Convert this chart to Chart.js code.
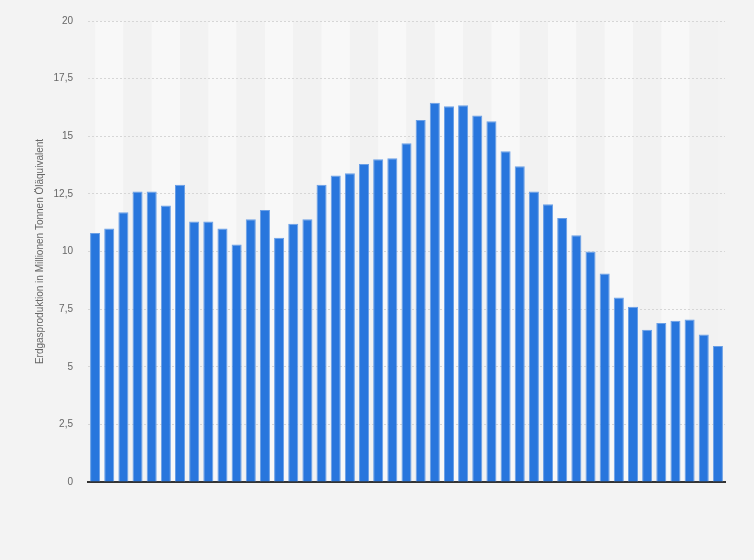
<!DOCTYPE html>
<html lang="de">
<head>
<meta charset="UTF-8">
<title>Erdgasproduktion</title>
<script src="https://cdn.jsdelivr.net/npm/chart.js"></script>
<style>
  body { margin: 0; background: #f3f3f3; }
  canvas { display: block; }
</style>
</head>
<body>
<canvas id="gasChart" width="754" height="560"></canvas>
<script>
  // Jahre (auf der Achse nicht beschriftet)
  const years = ['1970', '1971', '1972', '1973', '1974', '1975', '1976', '1977', '1978', '1979',
                 '1980', '1981', '1982', '1983', '1984', '1985', '1986', '1987', '1988', '1989',
                 '1990', '1991', '1992', '1993', '1994', '1995', '1996', '1997', '1998', '1999',
                 '2000', '2001', '2002', '2003', '2004', '2005', '2006', '2007', '2008', '2009',
                 '2010', '2011', '2012', '2013', '2014'];

  // Erdgasproduktion in Mio. t Öläquivalent
  const production = [10.8, 11.0, 11.7, 12.6, 12.6, 12.0, 12.9, 11.3, 11.3, 11.0,
                      10.3, 11.4, 11.8, 10.6, 11.2, 11.4, 12.9, 13.3, 13.4, 13.8,
                      14.0, 14.05, 14.7, 15.7, 16.45, 16.3, 16.35, 15.9, 15.65, 14.35,
                      13.7, 12.6, 12.05, 11.45, 10.7, 10.0, 9.05, 8.0, 7.6, 6.6,
                      6.9, 7.0, 7.05, 6.4, 5.9];

  const yTicks = [0, 2.5, 5, 7.5, 10, 12.5, 15, 17.5, 20];

  // Hintergrund + abwechselnde Spaltenstreifen
  const stripes = {
    id: 'stripes',
    beforeDraw(chart) {
      const { ctx, chartArea, scales: { x } } = chart;
      ctx.save();
      ctx.fillStyle = '#f3f3f3';
      ctx.fillRect(0, 0, chart.width, chart.height);
      for (let i = 0; i + 2 < years.length; i += 2) {
        const x0 = x.getPixelForValue(i);
        const x1 = x.getPixelForValue(i + 2);
        ctx.fillStyle = (i % 4 === 0) ? '#f8f8f8' : '#f2f2f2';
        ctx.fillRect(x0, chartArea.top, x1 - x0, chartArea.bottom - chartArea.top);
      }
      ctx.restore();
    }
  };

  new Chart(document.getElementById('gasChart'), {
    type: 'bar',
    data: {
      labels: years,
      datasets: [{
        data: production,
        backgroundColor: '#2876dd',
        borderColor: '#6a9fe6',
        borderWidth: 1,
        borderSkipped: 'bottom',
        categoryPercentage: 1,
        barPercentage: 0.71
      }]
    },
    options: {
      responsive: false,
      animation: false,
      layout: { padding: { left: 0, right: 29, top: 13, bottom: 70 } },
      plugins: { legend: { display: false }, tooltip: { enabled: false } },
      scales: {
        x: {
          ticks: { display: false },
          grid: { display: false },
          border: { display: true, color: '#333333', width: 2 }
        },
        y: {
          min: 0,
          max: 20,
          afterBuildTicks: axis => { axis.ticks = yTicks.map(v => ({ value: v })); },
          afterFit: axis => { axis.width = 88; },
          ticks: {
            padding: 15,
            color: '#666666',
            font: { family: 'Liberation Sans, Arial, sans-serif', size: 10 },
            callback: v => String(v).replace('.', ',')
          },
          grid: { color: '#d6d6d6', drawTicks: false },
          border: { display: false, dash: [2, 2] },
          title: {
            display: true,
            text: 'Erdgasproduktion in Millionen Tonnen Öläquivalent',
            color: '#666666',
            font: { family: 'Liberation Sans, Arial, sans-serif', size: 10 },
            padding: { top: 34, bottom: 0 }
          }
        }
      }
    },
    plugins: [stripes]
  });
</script>
</body>
</html>
